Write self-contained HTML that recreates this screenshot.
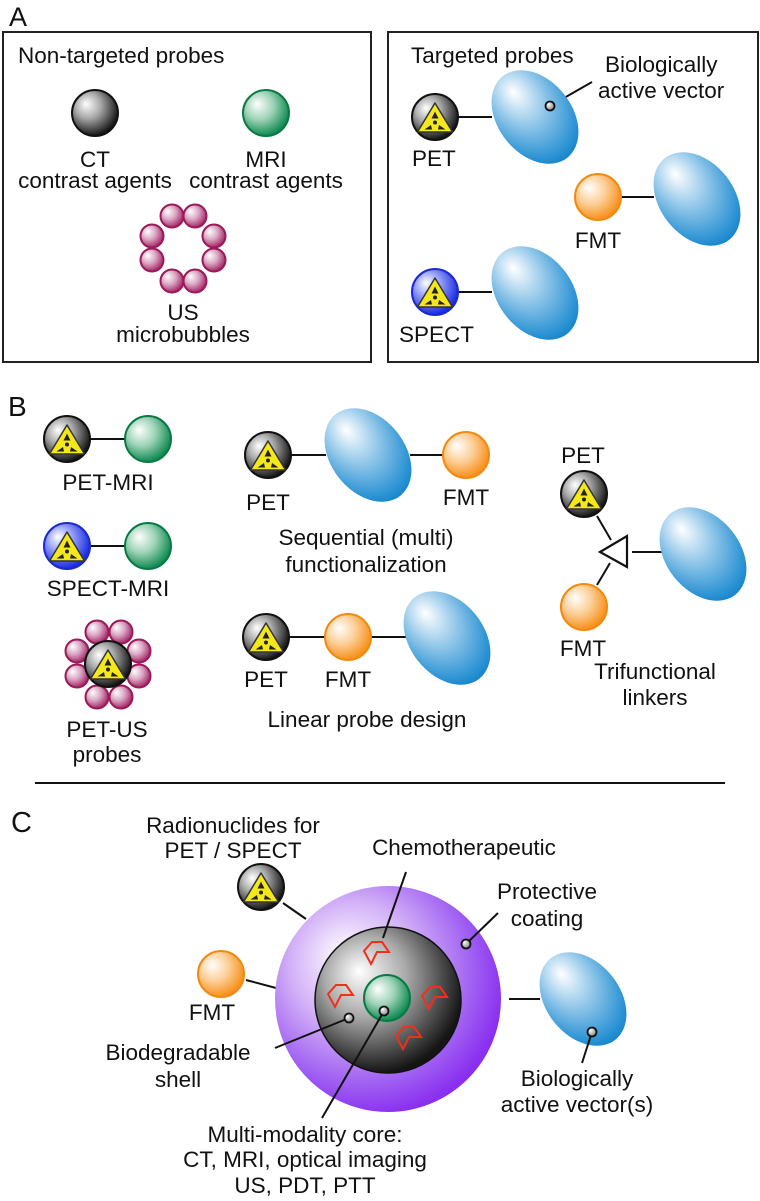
<!DOCTYPE html>
<html><head><meta charset="utf-8"><style>
html,body{margin:0;padding:0;background:#fff}
svg{display:block}
text{font-family:"Liberation Sans",Arial,sans-serif;font-size:22.5px;fill:#111}
.m{text-anchor:middle}
</style></head><body>
<svg width="760" height="1201" viewBox="0 0 760 1201" xmlns="http://www.w3.org/2000/svg">
<defs>
<radialGradient id="gK" cx="0.4" cy="0.38" r="0.62" fx="0.3" fy="0.3"><stop offset="0" stop-color="#fff"/><stop offset="0.45" stop-color="#aaa"/><stop offset="1" stop-color="#151515"/></radialGradient>
<radialGradient id="gG" cx="0.4" cy="0.38" r="0.62" fx="0.3" fy="0.3"><stop offset="0" stop-color="#fff"/><stop offset="0.5" stop-color="#9fd3b8"/><stop offset="1" stop-color="#0f8a52"/></radialGradient>
<radialGradient id="gO" cx="0.4" cy="0.38" r="0.62" fx="0.3" fy="0.3"><stop offset="0" stop-color="#fff"/><stop offset="0.5" stop-color="#fcd09a"/><stop offset="1" stop-color="#f7901a"/></radialGradient>
<radialGradient id="gB" cx="0.4" cy="0.38" r="0.62" fx="0.3" fy="0.3"><stop offset="0" stop-color="#fff"/><stop offset="0.5" stop-color="#8a95f5"/><stop offset="1" stop-color="#1a2ae0"/></radialGradient>
<radialGradient id="gM" cx="0.4" cy="0.38" r="0.62" fx="0.3" fy="0.3"><stop offset="0" stop-color="#fff"/><stop offset="0.5" stop-color="#dba8c4"/><stop offset="1" stop-color="#a52868"/></radialGradient>
<radialGradient id="gE" cx="0.3" cy="0.5" r="0.75" fx="0.18" fy="0.52"><stop offset="0" stop-color="#fff"/><stop offset="0.45" stop-color="#8cc4e8"/><stop offset="0.85" stop-color="#2a92d4"/><stop offset="1" stop-color="#0c7cc4"/></radialGradient>
<radialGradient id="gP" cx="0.4" cy="0.4" r="0.62" fx="0.3" fy="0.3"><stop offset="0" stop-color="#fff"/><stop offset="0.45" stop-color="#d2b0f7"/><stop offset="0.8" stop-color="#a060f2"/><stop offset="1" stop-color="#8a2ff0"/></radialGradient>
<radialGradient id="gD" cx="0.4" cy="0.38" r="0.62" fx="0.3" fy="0.3"><stop offset="0" stop-color="#fff"/><stop offset="1" stop-color="#888"/></radialGradient>
<g id="rad">
<path d="M0,-16 L17.5,13 L-17.5,13 Z" fill="#f4e81a" stroke="#333" stroke-width="1.5" stroke-linejoin="round"/>
<circle cx="0" cy="3.5" r="2" fill="#222"/>
<path d="M-3.5,-0.5 L0,-7.5 L3.5,-0.5 Z" fill="#222"/>
<path d="M-4,6 L-10.5,10.5 L-3,10.5 Z" fill="#222"/>
<path d="M4,6 L10.5,10.5 L3,10.5 Z" fill="#222"/>
</g>
<g id="pet"><circle r="23" fill="url(#gK)" stroke="#111" stroke-width="2"/><use href="#rad" y="2"/></g>
<g id="spect"><circle r="23" fill="url(#gB)" stroke="#1a2ad0" stroke-width="2"/><use href="#rad" y="2"/></g>
<g id="mri"><circle r="23" fill="url(#gG)" stroke="#0a7a45" stroke-width="2"/></g>
<g id="fmt"><circle r="23" fill="url(#gO)" stroke="#f08a10" stroke-width="2"/></g>
<g id="ct"><circle r="23" fill="url(#gK)" stroke="#111" stroke-width="2"/></g>
<g id="bub"><circle r="11.5" fill="url(#gM)" stroke="#9a1a5a" stroke-width="2"/></g>
<g id="ell"><ellipse rx="52" ry="37" transform="rotate(51.5)" fill="url(#gE)"/></g>
<g id="dot"><circle r="4.5" fill="url(#gD)" stroke="#111" stroke-width="1.8"/></g>
<path id="chev" d="M0,9 L8,0 L18,0 L25,10 L13,10 L7,22 Z" fill="none" stroke="#f0301a" stroke-width="2" stroke-linejoin="miter"/>
</defs>
<g stroke="#111" stroke-width="2" fill="none">
<rect x="3" y="32" width="368" height="330" stroke="#222"/>
<rect x="388" y="32" width="370" height="330" stroke="#222"/>
<line x1="459" y1="117" x2="492" y2="117"/>
<line x1="622" y1="197" x2="654" y2="197"/>
<line x1="459" y1="292" x2="492" y2="292"/>
<line x1="592" y1="82" x2="550" y2="106"/>
<line x1="90" y1="439" x2="125" y2="439"/>
<line x1="90" y1="546" x2="125" y2="546"/>
<line x1="292" y1="455" x2="326" y2="455"/>
<line x1="410" y1="455" x2="443" y2="455"/>
<line x1="290" y1="637" x2="325" y2="637"/>
<line x1="371" y1="637" x2="406" y2="637"/>
<line x1="597" y1="516" x2="611" y2="540"/>
<line x1="597" y1="585" x2="610" y2="563"/>
<line x1="632" y1="552" x2="662" y2="552"/>
<path d="M600,552 L627,536 L627,567 Z" stroke-width="2.2"/>
<line x1="35" y1="783" x2="725" y2="783"/>
<line x1="283" y1="903" x2="306" y2="919"/>
<line x1="246" y1="980" x2="276" y2="988"/>
<line x1="509" y1="999" x2="540" y2="999"/>
</g>
<text x="9" y="26" style="font-size:27px">A</text>
<text x="18" y="63">Non-targeted probes</text>
<use href="#ct" x="95" y="113"/>
<use href="#mri" x="266" y="113"/>
<text class="m" x="95" y="167">CT</text>
<text class="m" x="95" y="188">contrast agents</text>
<text class="m" x="266" y="167">MRI</text>
<text class="m" x="266" y="188">contrast agents</text>
<use href="#bub" x="172" y="216"/><use href="#bub" x="195" y="216"/>
<use href="#bub" x="152" y="236"/><use href="#bub" x="214" y="236"/>
<use href="#bub" x="152" y="260"/><use href="#bub" x="214" y="260"/>
<use href="#bub" x="172" y="281"/><use href="#bub" x="195" y="281"/>
<text class="m" x="183" y="320">US</text>
<text class="m" x="183" y="342">microbubbles</text>

<text x="411" y="63">Targeted probes</text>
<text x="605" y="72">Biologically</text>
<text x="598" y="98">active vector</text>
<use href="#ell" x="535" y="117"/>
<use href="#dot" x="550" y="106"/>
<use href="#pet" x="435" y="117"/>
<text x="412" y="166">PET</text>
<use href="#fmt" x="598" y="197"/>
<use href="#ell" x="697" y="199"/>
<text class="m" x="598" y="248">FMT</text>
<use href="#ell" x="535" y="293"/>
<use href="#spect" x="435" y="292"/>
<text x="399" y="342">SPECT</text>

<text x="8" y="416" style="font-size:28px">B</text>
<use href="#pet" x="67" y="439"/><use href="#mri" x="148" y="439"/>
<text class="m" x="108" y="490">PET-MRI</text>
<use href="#spect" x="67" y="546"/><use href="#mri" x="148" y="546"/>
<text class="m" x="108" y="596">SPECT-MRI</text>
<use href="#bub" x="97" y="632"/><use href="#bub" x="121" y="632"/>
<use href="#bub" x="77" y="651"/><use href="#bub" x="139" y="651"/>
<use href="#bub" x="77" y="676"/><use href="#bub" x="139" y="676"/>
<use href="#bub" x="97" y="697"/><use href="#bub" x="121" y="697"/>
<use href="#pet" x="108" y="664"/>
<text class="m" x="107" y="737">PET-US</text>
<text class="m" x="107" y="762">probes</text>

<use href="#pet" x="268" y="455"/>
<use href="#ell" x="368" y="455"/>
<use href="#fmt" x="466" y="455"/>
<text class="m" x="268" y="510">PET</text>
<text class="m" x="466" y="505">FMT</text>
<text class="m" x="366" y="545">Sequential (multi)</text>
<text class="m" x="366" y="572">functionalization</text>
<use href="#pet" x="266" y="637"/>
<use href="#fmt" x="348" y="637"/>
<use href="#ell" x="447" y="638"/>
<text class="m" x="266" y="687">PET</text>
<text class="m" x="348" y="687">FMT</text>
<text class="m" x="367" y="727">Linear probe design</text>

<text class="m" x="583" y="463">PET</text>
<use href="#pet" x="584" y="494"/>
<use href="#fmt" x="584" y="607"/>
<use href="#ell" x="703" y="554"/>
<text class="m" x="583" y="656">FMT</text>
<text class="m" x="655" y="679">Trifunctional</text>
<text class="m" x="655" y="705">linkers</text>

<text x="11" y="832" style="font-size:29px">C</text>
<text class="m" x="233" y="833">Radionuclides for</text>
<text class="m" x="233" y="858">PET / SPECT</text>
<use href="#pet" x="261" y="887"/>
<circle cx="388" cy="999" r="113" fill="url(#gP)"/>
<circle cx="388" cy="1000" r="73" fill="url(#gK)" stroke="#111" stroke-width="1.5"/>
<circle cx="387" cy="998" r="23" fill="url(#gG)" stroke="#0a7a45" stroke-width="2"/>
<use href="#chev" x="364" y="942"/>
<use href="#chev" x="328" y="985"/>
<use href="#chev" x="422" y="987"/>
<use href="#chev" x="396" y="1027"/>
<use href="#fmt" x="221" y="974"/>
<text class="m" x="212" y="1020">FMT</text>
<text class="m" x="464" y="855">Chemotherapeutic</text>
<text class="m" x="547" y="899">Protective</text>
<text class="m" x="547" y="926">coating</text>
<use href="#ell" x="583" y="999"/>
<text class="m" x="178" y="1060">Biodegradable</text>
<text class="m" x="178" y="1087">shell</text>
<text class="m" x="577" y="1086">Biologically</text>
<text class="m" x="577" y="1112">active vector(s)</text>
<text class="m" x="305" y="1142">Multi-modality core:</text>
<text class="m" x="305" y="1167">CT, MRI, optical imaging</text>
<text class="m" x="305" y="1193">US, PDT, PTT</text>
<g stroke="#111" stroke-width="2" fill="none">
<line x1="406" y1="872" x2="383" y2="938"/>
<line x1="498" y1="913" x2="466" y2="944"/>
<line x1="275" y1="1048" x2="349" y2="1018"/>
<line x1="322" y1="1118" x2="384" y2="1011"/>
<line x1="592" y1="1032" x2="582" y2="1063"/>
</g>
<use href="#dot" x="466" y="944"/>
<use href="#dot" x="349" y="1018"/>
<use href="#dot" x="384" y="1011"/>
<use href="#dot" x="592" y="1032"/>
</svg>
</body></html>
